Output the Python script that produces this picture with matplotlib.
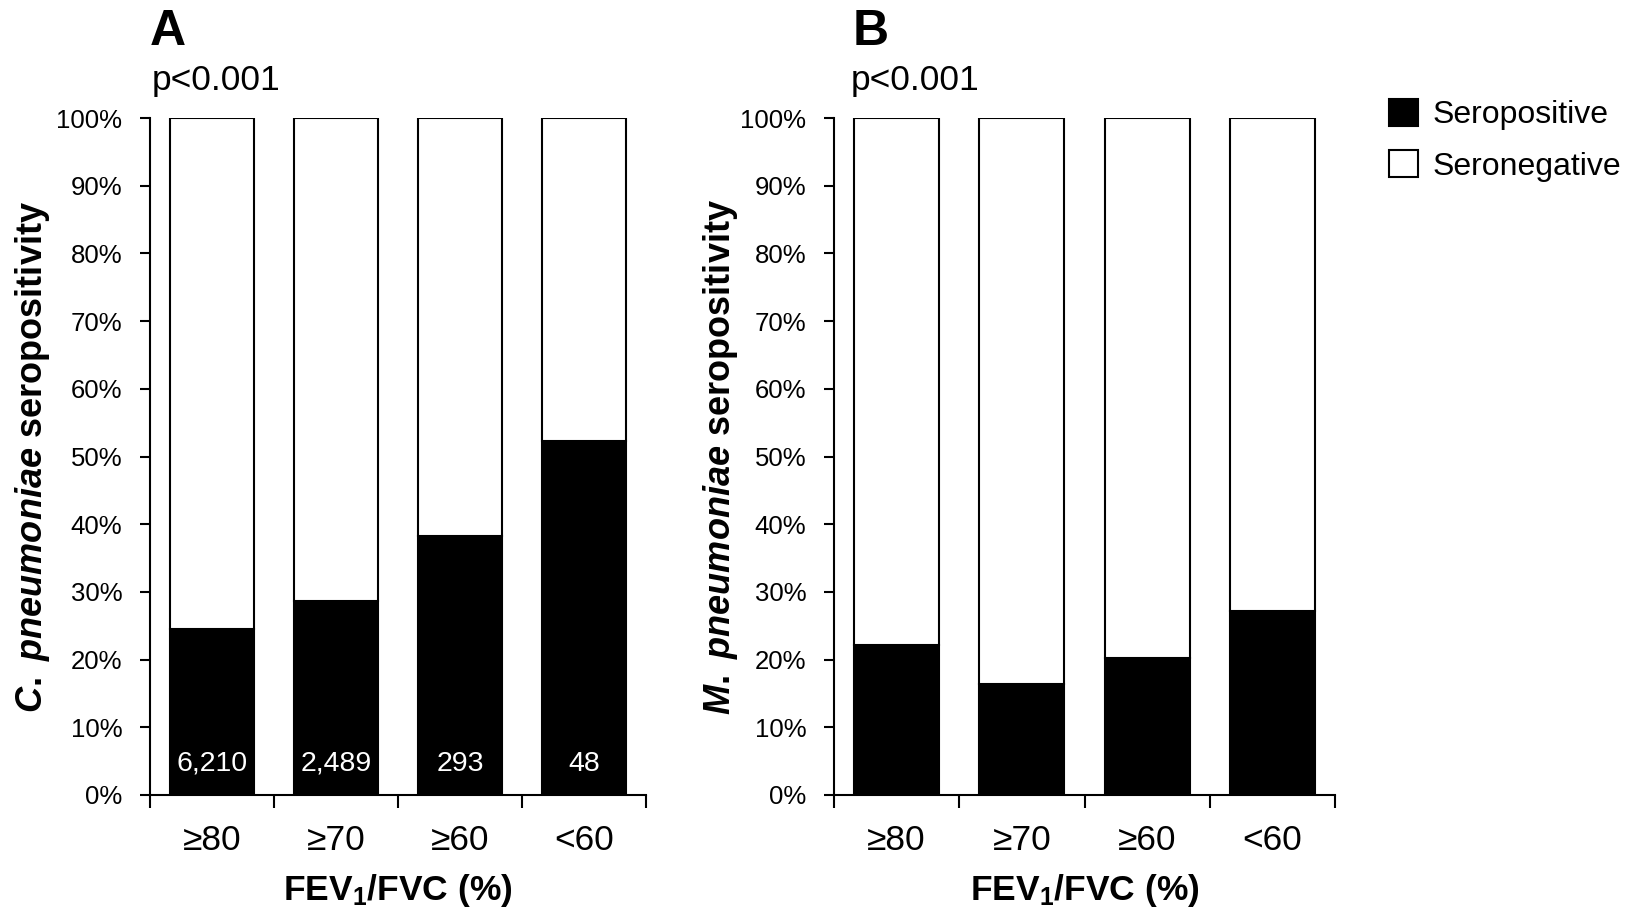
import matplotlib
matplotlib.use("Agg")
import matplotlib.pyplot as plt
import numpy as np

plt.rcParams['font.family'] = ['Liberation Sans', 'DejaVu Sans']
plt.rcParams['mathtext.fontset'] = 'custom'
plt.rcParams['mathtext.it'] = 'Liberation Sans:italic:bold'
plt.rcParams['mathtext.bf'] = 'Liberation Sans:bold'
plt.rcParams['mathtext.rm'] = 'Liberation Sans:bold'

categories = ['≥80', '≥70', '≥60', '<60']
cpn_pos = [24.5, 28.6, 38.3, 52.3]
mpn_pos = [22.2, 16.4, 20.3, 27.2]
counts = ['6,210', '2,489', '293', '48']
yticks = [0, 10, 20, 30, 40, 50, 60, 70, 80, 90, 100]
ytick_labels = [f'{v}%' for v in yticks]

W, H = 1628, 911
fig = plt.figure(figsize=(W / 100, H / 100), dpi=100)


def px_axes(left, right, top, bottom):
    return fig.add_axes([left / W, 1 - bottom / H, (right - left) / W, (bottom - top) / H])


axA = px_axes(150, 646, 118, 795)
axB = px_axes(834, 1335, 118, 795)


def draw(ax, pos, ylabel_math, ylab_x):
    x = np.arange(len(categories)) + 0.5
    neg = [100 - p for p in pos]
    b1 = ax.bar(x, pos, width=0.68, color='black', edgecolor='black', linewidth=1.5,
                label='Seropositive')
    b2 = ax.bar(x, neg, bottom=pos, width=0.68, color='white', edgecolor='black',
                linewidth=1.5, label='Seronegative')
    ax.set_xlim(0, len(categories))
    ax.set_ylim(0, 100)
    ax.set_yticks(yticks)
    ax.set_yticklabels(ytick_labels, fontsize=18.5)
    ax.tick_params(axis='y', direction='out', length=7, width=1.5, pad=13)
    ax.set_xticks(x)
    ax.set_xticklabels(categories, fontsize=25.5)
    ax.tick_params(axis='x', which='major', length=0, pad=21)
    ax.set_xticks(np.arange(len(categories) + 1), minor=True)
    ax.tick_params(axis='x', which='minor', direction='out', length=9, width=1.5)
    for s in ['top', 'right']:
        ax.spines[s].set_visible(False)
    for s in ['left', 'bottom']:
        ax.spines[s].set_linewidth(1.5)
    ax.set_xlabel(r'FEV$_{\mathbf{1}}$/FVC (%)', fontsize=25.5, fontweight='bold', labelpad=11)
    fig.text(ylab_x / W, 1 - 456.5 / H, ylabel_math, rotation=90, ha='center', va='center',
             fontsize=26, fontweight='bold')
    return b1, b2


b1, b2 = draw(axA, cpn_pos, r'$C.$ $pneumoniae$ seropositivity', 33)
draw(axB, mpn_pos, r'$M.$ $pneumoniae$ seropositivity', 720)

xA = np.arange(len(categories)) + 0.5
for xi, c in zip(xA, counts):
    axA.text(xi, 4.6, c, color='white', ha='center', va='center', fontsize=20.5)

fig.text(150 / W, 1 - 45 / H, 'A', fontsize=36, fontweight='heavy', ha='left', va='baseline')
fig.text(152 / W, 1 - 90 / H, 'p<0.001', fontsize=25.5, ha='left', va='baseline')
fig.text(853 / W, 1 - 45 / H, 'B', fontsize=36, fontweight='heavy', ha='left', va='baseline')
fig.text(851 / W, 1 - 90 / H, 'p<0.001', fontsize=25.5, ha='left', va='baseline')

fig.legend(handles=[b1, b2], labels=['Seropositive', 'Seronegative'], loc='upper left',
           bbox_to_anchor=(1389 / W, 1 - 99 / H), frameon=False, fontsize=23,
           handlelength=0.92, handleheight=0.92, handletextpad=0.45, labelspacing=0.62,
           borderpad=0, borderaxespad=0)

fig.savefig('out.png', dpi=100)
